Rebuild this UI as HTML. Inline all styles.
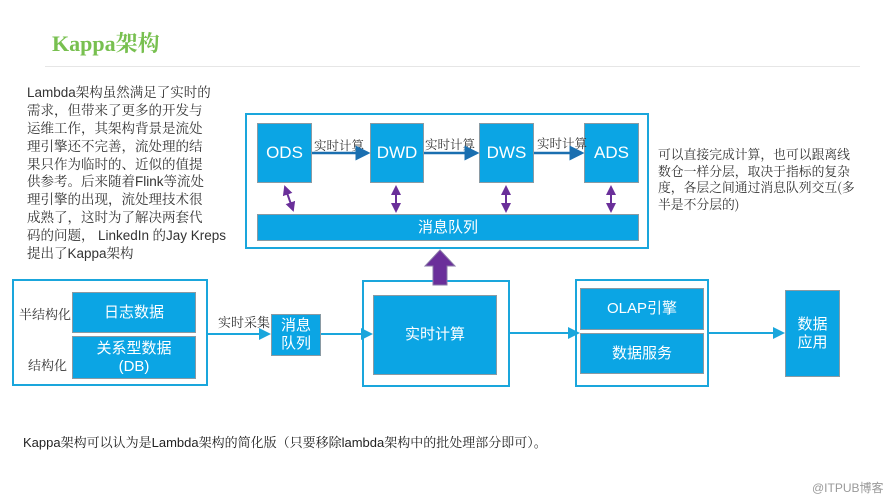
<!DOCTYPE html>
<html><head><meta charset="utf-8"><style>
body{margin:0;width:889px;height:500px;background:#fff;position:relative;overflow:hidden;font-family:"Liberation Sans","Noto Sans CJK SC",sans-serif}
.a{position:absolute;white-space:nowrap}
.b{position:absolute;background:#0ba5e4;border:1.5px solid #8a9aa3;box-sizing:border-box;color:#fff;display:flex;align-items:center;justify-content:center;text-align:center;font-size:15px;line-height:18px}
.c{position:absolute;border:2px solid #1aa6dc;box-sizing:border-box}
.t{font-family:"Noto Serif CJK SC",serif;color:#333}
.s{font-family:"Liberation Sans",sans-serif}
.L div{height:17.9px;line-height:17.9px;overflow:visible}
</style></head><body>
<div class="a" style="left:52px;top:27px;font-family:'Liberation Serif','Noto Serif CJK SC',serif;font-size:22px;color:#78c050;font-weight:bold">Kappa架构</div>
<div class="a" style="left:45px;top:66px;width:815px;height:1px;background:#e6e6e6"></div>
<div class="a t L" style="left:27px;top:83px;font-size:13.5px">
<div><span class="s">Lambda</span>架构虽然满足了实时的</div>
<div>需求，但带来了更多的开发与</div>
<div>运维工作，其架构背景是流处</div>
<div>理引擎还不完善，流处理的结</div>
<div>果只作为临时的、近似的值提</div>
<div>供参考。后来随着<span class="s">Flink</span>等流处</div>
<div>理引擎的出现，流处理技术很</div>
<div>成熟了，这时为了解决两套代</div>
<div>码的问题， <span class="s">LinkedIn</span> 的<span class="s">Jay Kreps</span></div>
<div>提出了<span class="s">Kappa</span>架构</div>
</div>
<div class="a t" style="left:658px;top:146px;font-size:12.8px;line-height:16.5px">可以直接完成计算，也可以跟离线<br>数仓一样分层，取决于指标的复杂<br>度，各层之间通过消息队列交互(多<br>半是不分层的)</div>

<div class="c" style="left:245px;top:113px;width:404px;height:136px"></div>
<div class="b" style="left:257px;top:123px;width:55px;height:60px;font-size:17px">ODS</div>
<div class="b" style="left:370px;top:123px;width:54px;height:60px;font-size:17px">DWD</div>
<div class="b" style="left:479px;top:123px;width:55px;height:60px;font-size:17px">DWS</div>
<div class="b" style="left:584px;top:123px;width:55px;height:60px;font-size:17px">ADS</div>
<div class="b" style="left:257px;top:214px;width:382px;height:27px">消息队列</div>
<div class="a t" style="left:314px;top:136px;font-size:12.5px">实时计算</div>
<div class="a t" style="left:425px;top:135px;font-size:12.5px">实时计算</div>
<div class="a t" style="left:537px;top:134px;font-size:12.5px">实时计算</div>

<div class="c" style="left:12px;top:279px;width:196px;height:107px"></div>
<div class="b" style="left:72px;top:292px;width:124px;height:41px">日志数据</div>
<div class="b" style="left:72px;top:336px;width:124px;height:43px">关系型数据<br>(DB)</div>
<div class="a t" style="left:19px;top:304px;font-size:13px">半结构化</div>
<div class="a t" style="left:28px;top:355px;font-size:13px">结构化</div>
<div class="a t" style="left:218px;top:312px;font-size:13px">实时采集</div>
<div class="b" style="left:271px;top:314px;width:50px;height:42px">消息<br>队列</div>
<div class="c" style="left:362px;top:280px;width:148px;height:107px"></div>
<div class="b" style="left:373px;top:295px;width:124px;height:80px">实时计算</div>
<div class="c" style="left:575px;top:279px;width:134px;height:108px"></div>
<div class="b" style="left:580px;top:288px;width:124px;height:42px">OLAP引擎</div>
<div class="b" style="left:580px;top:333px;width:124px;height:41px">数据服务</div>
<div class="b" style="left:785px;top:290px;width:55px;height:87px">数据<br>应用</div>

<svg class="a" style="left:0;top:0" width="889" height="500">
<defs>
<marker id="m" markerWidth="6" markerHeight="6" refX="5" refY="3" orient="auto"><path d="M0,0L6,3L0,6z" fill="#1a6fb0"/></marker>
<marker id="m2" markerWidth="6" markerHeight="6" refX="5" refY="3" orient="auto"><path d="M0,0L6,3L0,6z" fill="#1aa6dc"/></marker>
<marker id="p" markerWidth="5" markerHeight="5" refX="4" refY="2.5" orient="auto-start-reverse"><path d="M0,0L5,2.5L0,5z" fill="#6a2f9a"/></marker>
</defs>
<g stroke="#1a6fb0" stroke-width="2.5" marker-end="url(#m)">
<line x1="312" y1="153" x2="368" y2="153"/><line x1="424" y1="153" x2="477" y2="153"/><line x1="534" y1="153" x2="582" y2="153"/>
</g>
<g stroke="#1aa6dc" stroke-width="2" marker-end="url(#m2)">
<line x1="208" y1="334" x2="269" y2="334"/><line x1="321" y1="334" x2="371" y2="334"/><line x1="510" y1="333" x2="578" y2="333"/><line x1="709" y1="333" x2="783" y2="333"/>
</g>
<g stroke="#6a2f9a" stroke-width="2" marker-start="url(#p)" marker-end="url(#p)">
<line x1="285" y1="187" x2="293" y2="210"/><line x1="396" y1="187" x2="396" y2="211"/><line x1="506" y1="187" x2="506" y2="211"/><line x1="611" y1="187" x2="611" y2="211"/>
</g>
<path d="M440,250L455,266L447,266L447,285L433,285L433,266L425,266z" fill="#6a2f9a" stroke="#8a7aa8"/>
</svg>
<div class="a t" style="left:23px;top:432px;font-size:13px;color:#222"><span class="s">Kappa</span>架构可以认为是<span class="s">Lambda</span>架构的简化版（只要移除<span class="s">lambda</span>架构中的批处理部分即可）。</div>
<div class="a" style="left:812px;top:479px;font-size:12px;color:#999">@ITPUB博客</div>
</body></html>
